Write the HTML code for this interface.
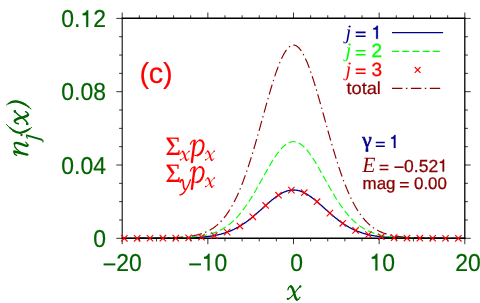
<!DOCTYPE html>
<html><head><meta charset="utf-8"><title>plot</title>
<style>html,body{margin:0;padding:0;background:#fff;overflow:hidden}svg{display:block;will-change:transform}text{fill:currentColor;stroke:currentColor;stroke-width:.008em;text-rendering:geometricPrecision}.sa{font-family:"Liberation Sans",sans-serif}.se{font-family:"Liberation Serif",serif}</style></head>
<body>
<svg width="480" height="303" viewBox="0 0 480 303">
<rect width="480" height="303" fill="#fff"/>
<g fill="none" stroke-width="1.15">
<path d="M122.20,238.29 L122.89,238.29 L123.57,238.29 L124.26,238.29 L124.94,238.29 L125.63,238.29 L126.31,238.29 L127.00,238.29 L127.68,238.29 L128.37,238.29 L129.05,238.29 L129.74,238.28 L130.42,238.28 L131.11,238.28 L131.79,238.28 L132.48,238.28 L133.16,238.28 L133.85,238.28 L134.53,238.28 L135.22,238.28 L135.90,238.28 L136.59,238.28 L137.27,238.28 L137.96,238.28 L138.64,238.28 L139.33,238.28 L140.02,238.27 L140.70,238.27 L141.39,238.27 L142.07,238.27 L142.76,238.27 L143.44,238.27 L144.13,238.27 L144.81,238.27 L145.50,238.27 L146.18,238.26 L146.87,238.26 L147.55,238.26 L148.24,238.26 L148.92,238.26 L149.61,238.26 L150.29,238.26 L150.98,238.25 L151.66,238.25 L152.35,238.25 L153.03,238.25 L153.72,238.25 L154.40,238.25 L155.09,238.24 L155.77,238.24 L156.46,238.24 L157.15,238.24 L157.83,238.23 L158.52,238.23 L159.20,238.23 L159.89,238.23 L160.57,238.22 L161.26,238.22 L161.94,238.22 L162.63,238.21 L163.31,238.21 L164.00,238.21 L164.68,238.20 L165.37,238.20 L166.05,238.19 L166.74,238.19 L167.42,238.18 L168.11,238.18 L168.79,238.17 L169.48,238.17 L170.16,238.16 L170.85,238.16 L171.53,238.15 L172.22,238.15 L172.90,238.14 L173.59,238.13 L174.28,238.12 L174.96,238.12 L175.65,238.11 L176.33,238.10 L177.02,238.09 L177.70,238.08 L178.39,238.07 L179.07,238.06 L179.76,238.05 L180.44,238.04 L181.13,238.02 L181.81,238.01 L182.50,238.00 L183.18,237.98 L183.87,237.97 L184.55,237.95 L185.24,237.93 L185.92,237.92 L186.61,237.90 L187.29,237.88 L187.98,237.86 L188.66,237.84 L189.35,237.81 L190.03,237.79 L190.72,237.76 L191.41,237.74 L192.09,237.71 L192.78,237.68 L193.46,237.65 L194.15,237.62 L194.83,237.58 L195.52,237.55 L196.20,237.51 L196.89,237.47 L197.57,237.43 L198.26,237.39 L198.94,237.34 L199.63,237.29 L200.31,237.24 L201.00,237.19 L201.68,237.14 L202.37,237.08 L203.05,237.02 L203.74,236.96 L204.42,236.89 L205.11,236.82 L205.79,236.75 L206.48,236.68 L207.16,236.60 L207.85,236.52 L208.54,236.43 L209.22,236.34 L209.91,236.25 L210.59,236.15 L211.28,236.05 L211.96,235.94 L212.65,235.83 L213.33,235.72 L214.02,235.59 L214.70,235.47 L215.39,235.34 L216.07,235.20 L216.76,235.06 L217.44,234.92 L218.13,234.77 L218.81,234.61 L219.50,234.44 L220.18,234.27 L220.87,234.10 L221.55,233.91 L222.24,233.72 L222.92,233.53 L223.61,233.32 L224.29,233.11 L224.98,232.90 L225.67,232.67 L226.35,232.44 L227.04,232.20 L227.72,231.95 L228.41,231.69 L229.09,231.43 L229.78,231.16 L230.46,230.87 L231.15,230.58 L231.83,230.29 L232.52,229.98 L233.20,229.66 L233.89,229.34 L234.57,229.00 L235.26,228.66 L235.94,228.31 L236.63,227.95 L237.31,227.58 L238.00,227.20 L238.68,226.81 L239.37,226.41 L240.05,226.00 L240.74,225.59 L241.42,225.16 L242.11,224.72 L242.80,224.28 L243.48,223.82 L244.17,223.36 L244.85,222.89 L245.54,222.41 L246.22,221.92 L246.91,221.42 L247.59,220.91 L248.28,220.40 L248.96,219.88 L249.65,219.34 L250.33,218.81 L251.02,218.26 L251.70,217.71 L252.39,217.15 L253.07,216.58 L253.76,216.01 L254.44,215.43 L255.13,214.84 L255.81,214.25 L256.50,213.66 L257.18,213.06 L257.87,212.46 L258.55,211.85 L259.24,211.24 L259.93,210.63 L260.61,210.01 L261.30,209.40 L261.98,208.78 L262.67,208.16 L263.35,207.54 L264.04,206.92 L264.72,206.31 L265.41,205.69 L266.09,205.08 L266.78,204.47 L267.46,203.87 L268.15,203.27 L268.83,202.67 L269.52,202.08 L270.20,201.50 L270.89,200.92 L271.57,200.35 L272.26,199.79 L272.94,199.24 L273.63,198.70 L274.31,198.17 L275.00,197.65 L275.68,197.14 L276.37,196.64 L277.06,196.16 L277.74,195.69 L278.43,195.24 L279.11,194.80 L279.80,194.37 L280.48,193.97 L281.17,193.58 L281.85,193.20 L282.54,192.85 L283.22,192.51 L283.91,192.20 L284.59,191.90 L285.28,191.62 L285.96,191.37 L286.65,191.13 L287.33,190.92 L288.02,190.72 L288.70,190.55 L289.39,190.40 L290.07,190.28 L290.76,190.18 L291.44,190.09 L292.13,190.04 L292.81,190.00 L293.50,189.99 L294.19,190.00 L294.87,190.04 L295.56,190.09 L296.24,190.18 L296.93,190.28 L297.61,190.40 L298.30,190.55 L298.98,190.72 L299.67,190.92 L300.35,191.13 L301.04,191.37 L301.72,191.62 L302.41,191.90 L303.09,192.20 L303.78,192.51 L304.46,192.85 L305.15,193.20 L305.83,193.58 L306.52,193.97 L307.20,194.37 L307.89,194.80 L308.57,195.24 L309.26,195.69 L309.94,196.16 L310.63,196.64 L311.32,197.14 L312.00,197.65 L312.69,198.17 L313.37,198.70 L314.06,199.24 L314.74,199.79 L315.43,200.35 L316.11,200.92 L316.80,201.50 L317.48,202.08 L318.17,202.67 L318.85,203.27 L319.54,203.87 L320.22,204.47 L320.91,205.08 L321.59,205.69 L322.28,206.31 L322.96,206.92 L323.65,207.54 L324.33,208.16 L325.02,208.78 L325.70,209.40 L326.39,210.01 L327.07,210.63 L327.76,211.24 L328.45,211.85 L329.13,212.46 L329.82,213.06 L330.50,213.66 L331.19,214.25 L331.87,214.84 L332.56,215.43 L333.24,216.01 L333.93,216.58 L334.61,217.15 L335.30,217.71 L335.98,218.26 L336.67,218.81 L337.35,219.34 L338.04,219.88 L338.72,220.40 L339.41,220.91 L340.09,221.42 L340.78,221.92 L341.46,222.41 L342.15,222.89 L342.83,223.36 L343.52,223.82 L344.20,224.28 L344.89,224.72 L345.58,225.16 L346.26,225.59 L346.95,226.00 L347.63,226.41 L348.32,226.81 L349.00,227.20 L349.69,227.58 L350.37,227.95 L351.06,228.31 L351.74,228.66 L352.43,229.00 L353.11,229.34 L353.80,229.66 L354.48,229.98 L355.17,230.29 L355.85,230.58 L356.54,230.87 L357.22,231.16 L357.91,231.43 L358.59,231.69 L359.28,231.95 L359.96,232.20 L360.65,232.44 L361.33,232.67 L362.02,232.90 L362.71,233.11 L363.39,233.32 L364.08,233.53 L364.76,233.72 L365.45,233.91 L366.13,234.10 L366.82,234.27 L367.50,234.44 L368.19,234.61 L368.87,234.77 L369.56,234.92 L370.24,235.06 L370.93,235.20 L371.61,235.34 L372.30,235.47 L372.98,235.59 L373.67,235.72 L374.35,235.83 L375.04,235.94 L375.72,236.05 L376.41,236.15 L377.09,236.25 L377.78,236.34 L378.46,236.43 L379.15,236.52 L379.84,236.60 L380.52,236.68 L381.21,236.75 L381.89,236.82 L382.58,236.89 L383.26,236.96 L383.95,237.02 L384.63,237.08 L385.32,237.14 L386.00,237.19 L386.69,237.24 L387.37,237.29 L388.06,237.34 L388.74,237.39 L389.43,237.43 L390.11,237.47 L390.80,237.51 L391.48,237.55 L392.17,237.58 L392.85,237.62 L393.54,237.65 L394.22,237.68 L394.91,237.71 L395.59,237.74 L396.28,237.76 L396.97,237.79 L397.65,237.81 L398.34,237.84 L399.02,237.86 L399.71,237.88 L400.39,237.90 L401.08,237.92 L401.76,237.93 L402.45,237.95 L403.13,237.97 L403.82,237.98 L404.50,238.00 L405.19,238.01 L405.87,238.02 L406.56,238.04 L407.24,238.05 L407.93,238.06 L408.61,238.07 L409.30,238.08 L409.98,238.09 L410.67,238.10 L411.35,238.11 L412.04,238.12 L412.72,238.12 L413.41,238.13 L414.10,238.14 L414.78,238.15 L415.47,238.15 L416.15,238.16 L416.84,238.16 L417.52,238.17 L418.21,238.17 L418.89,238.18 L419.58,238.18 L420.26,238.19 L420.95,238.19 L421.63,238.20 L422.32,238.20 L423.00,238.21 L423.69,238.21 L424.37,238.21 L425.06,238.22 L425.74,238.22 L426.43,238.22 L427.11,238.23 L427.80,238.23 L428.48,238.23 L429.17,238.23 L429.85,238.24 L430.54,238.24 L431.23,238.24 L431.91,238.24 L432.60,238.25 L433.28,238.25 L433.97,238.25 L434.65,238.25 L435.34,238.25 L436.02,238.25 L436.71,238.26 L437.39,238.26 L438.08,238.26 L438.76,238.26 L439.45,238.26 L440.13,238.26 L440.82,238.26 L441.50,238.27 L442.19,238.27 L442.87,238.27 L443.56,238.27 L444.24,238.27 L444.93,238.27 L445.61,238.27 L446.30,238.27 L446.98,238.27 L447.67,238.28 L448.36,238.28 L449.04,238.28 L449.73,238.28 L450.41,238.28 L451.10,238.28 L451.78,238.28 L452.47,238.28 L453.15,238.28 L453.84,238.28 L454.52,238.28 L455.21,238.28 L455.89,238.28 L456.58,238.28 L457.26,238.28 L457.95,238.29 L458.63,238.29 L459.32,238.29 L460.00,238.29 L460.69,238.29 L461.37,238.29 L462.06,238.29 L462.74,238.29 L463.43,238.29 L464.11,238.29 L464.80,238.29" stroke="#00008b" stroke-width="1.3"/>
<path d="M122.20,238.28 L122.89,238.28 L123.57,238.28 L124.26,238.28 L124.94,238.28 L125.63,238.28 L126.31,238.27 L127.00,238.27 L127.68,238.27 L128.37,238.27 L129.05,238.27 L129.74,238.27 L130.42,238.27 L131.11,238.27 L131.79,238.27 L132.48,238.27 L133.16,238.26 L133.85,238.26 L134.53,238.26 L135.22,238.26 L135.90,238.26 L136.59,238.26 L137.27,238.26 L137.96,238.25 L138.64,238.25 L139.33,238.25 L140.02,238.25 L140.70,238.25 L141.39,238.25 L142.07,238.24 L142.76,238.24 L143.44,238.24 L144.13,238.24 L144.81,238.23 L145.50,238.23 L146.18,238.23 L146.87,238.23 L147.55,238.22 L148.24,238.22 L148.92,238.22 L149.61,238.22 L150.29,238.21 L150.98,238.21 L151.66,238.21 L152.35,238.20 L153.03,238.20 L153.72,238.19 L154.40,238.19 L155.09,238.19 L155.77,238.18 L156.46,238.18 L157.15,238.17 L157.83,238.17 L158.52,238.16 L159.20,238.16 L159.89,238.15 L160.57,238.15 L161.26,238.14 L161.94,238.13 L162.63,238.13 L163.31,238.12 L164.00,238.11 L164.68,238.10 L165.37,238.10 L166.05,238.09 L166.74,238.08 L167.42,238.07 L168.11,238.06 L168.79,238.05 L169.48,238.04 L170.16,238.03 L170.85,238.02 L171.53,238.00 L172.22,237.99 L172.90,237.98 L173.59,237.96 L174.28,237.95 L174.96,237.93 L175.65,237.91 L176.33,237.90 L177.02,237.88 L177.70,237.86 L178.39,237.84 L179.07,237.82 L179.76,237.80 L180.44,237.77 L181.13,237.75 L181.81,237.72 L182.50,237.69 L183.18,237.66 L183.87,237.63 L184.55,237.60 L185.24,237.57 L185.92,237.53 L186.61,237.49 L187.29,237.46 L187.98,237.41 L188.66,237.37 L189.35,237.33 L190.03,237.28 L190.72,237.23 L191.41,237.17 L192.09,237.12 L192.78,237.06 L193.46,237.00 L194.15,236.93 L194.83,236.87 L195.52,236.79 L196.20,236.72 L196.89,236.64 L197.57,236.56 L198.26,236.47 L198.94,236.38 L199.63,236.29 L200.31,236.19 L201.00,236.08 L201.68,235.97 L202.37,235.86 L203.05,235.74 L203.74,235.61 L204.42,235.48 L205.11,235.35 L205.79,235.20 L206.48,235.05 L207.16,234.89 L207.85,234.73 L208.54,234.56 L209.22,234.38 L209.91,234.19 L210.59,234.00 L211.28,233.79 L211.96,233.58 L212.65,233.36 L213.33,233.13 L214.02,232.89 L214.70,232.64 L215.39,232.38 L216.07,232.11 L216.76,231.83 L217.44,231.54 L218.13,231.23 L218.81,230.92 L219.50,230.59 L220.18,230.25 L220.87,229.89 L221.55,229.53 L222.24,229.15 L222.92,228.76 L223.61,228.35 L224.29,227.93 L224.98,227.49 L225.67,227.04 L226.35,226.58 L227.04,226.10 L227.72,225.60 L228.41,225.09 L229.09,224.56 L229.78,224.01 L230.46,223.45 L231.15,222.87 L231.83,222.27 L232.52,221.66 L233.20,221.03 L233.89,220.38 L234.57,219.71 L235.26,219.02 L235.94,218.32 L236.63,217.60 L237.31,216.85 L238.00,216.10 L238.68,215.32 L239.37,214.52 L240.05,213.70 L240.74,212.87 L241.42,212.02 L242.11,211.15 L242.80,210.26 L243.48,209.35 L244.17,208.42 L244.85,207.48 L245.54,206.52 L246.22,205.54 L246.91,204.54 L247.59,203.53 L248.28,202.50 L248.96,201.45 L249.65,200.39 L250.33,199.31 L251.02,198.22 L251.70,197.11 L252.39,195.99 L253.07,194.86 L253.76,193.71 L254.44,192.55 L255.13,191.39 L255.81,190.21 L256.50,189.02 L257.18,187.82 L257.87,186.61 L258.55,185.40 L259.24,184.18 L259.93,182.95 L260.61,181.72 L261.30,180.49 L261.98,179.26 L262.67,178.02 L263.35,176.78 L264.04,175.55 L264.72,174.32 L265.41,173.09 L266.09,171.87 L266.78,170.65 L267.46,169.44 L268.15,168.24 L268.83,167.04 L269.52,165.86 L270.20,164.70 L270.89,163.54 L271.57,162.40 L272.26,161.28 L272.94,160.18 L273.63,159.10 L274.31,158.03 L275.00,156.99 L275.68,155.98 L276.37,154.98 L277.06,154.02 L277.74,153.08 L278.43,152.17 L279.11,151.29 L279.80,150.45 L280.48,149.63 L281.17,148.85 L281.85,148.11 L282.54,147.40 L283.22,146.73 L283.91,146.09 L284.59,145.50 L285.28,144.95 L285.96,144.43 L286.65,143.96 L287.33,143.53 L288.02,143.15 L288.70,142.81 L289.39,142.51 L290.07,142.26 L290.76,142.05 L291.44,141.89 L292.13,141.77 L292.81,141.70 L293.50,141.68 L294.19,141.70 L294.87,141.77 L295.56,141.89 L296.24,142.05 L296.93,142.26 L297.61,142.51 L298.30,142.81 L298.98,143.15 L299.67,143.53 L300.35,143.96 L301.04,144.43 L301.72,144.95 L302.41,145.50 L303.09,146.09 L303.78,146.73 L304.46,147.40 L305.15,148.11 L305.83,148.85 L306.52,149.63 L307.20,150.45 L307.89,151.29 L308.57,152.17 L309.26,153.08 L309.94,154.02 L310.63,154.98 L311.32,155.98 L312.00,156.99 L312.69,158.03 L313.37,159.10 L314.06,160.18 L314.74,161.28 L315.43,162.40 L316.11,163.54 L316.80,164.70 L317.48,165.86 L318.17,167.04 L318.85,168.24 L319.54,169.44 L320.22,170.65 L320.91,171.87 L321.59,173.09 L322.28,174.32 L322.96,175.55 L323.65,176.78 L324.33,178.02 L325.02,179.26 L325.70,180.49 L326.39,181.72 L327.07,182.95 L327.76,184.18 L328.45,185.40 L329.13,186.61 L329.82,187.82 L330.50,189.02 L331.19,190.21 L331.87,191.39 L332.56,192.55 L333.24,193.71 L333.93,194.86 L334.61,195.99 L335.30,197.11 L335.98,198.22 L336.67,199.31 L337.35,200.39 L338.04,201.45 L338.72,202.50 L339.41,203.53 L340.09,204.54 L340.78,205.54 L341.46,206.52 L342.15,207.48 L342.83,208.42 L343.52,209.35 L344.20,210.26 L344.89,211.15 L345.58,212.02 L346.26,212.87 L346.95,213.70 L347.63,214.52 L348.32,215.32 L349.00,216.10 L349.69,216.85 L350.37,217.60 L351.06,218.32 L351.74,219.02 L352.43,219.71 L353.11,220.38 L353.80,221.03 L354.48,221.66 L355.17,222.27 L355.85,222.87 L356.54,223.45 L357.22,224.01 L357.91,224.56 L358.59,225.09 L359.28,225.60 L359.96,226.10 L360.65,226.58 L361.33,227.04 L362.02,227.49 L362.71,227.93 L363.39,228.35 L364.08,228.76 L364.76,229.15 L365.45,229.53 L366.13,229.89 L366.82,230.25 L367.50,230.59 L368.19,230.92 L368.87,231.23 L369.56,231.54 L370.24,231.83 L370.93,232.11 L371.61,232.38 L372.30,232.64 L372.98,232.89 L373.67,233.13 L374.35,233.36 L375.04,233.58 L375.72,233.79 L376.41,234.00 L377.09,234.19 L377.78,234.38 L378.46,234.56 L379.15,234.73 L379.84,234.89 L380.52,235.05 L381.21,235.20 L381.89,235.35 L382.58,235.48 L383.26,235.61 L383.95,235.74 L384.63,235.86 L385.32,235.97 L386.00,236.08 L386.69,236.19 L387.37,236.29 L388.06,236.38 L388.74,236.47 L389.43,236.56 L390.11,236.64 L390.80,236.72 L391.48,236.79 L392.17,236.87 L392.85,236.93 L393.54,237.00 L394.22,237.06 L394.91,237.12 L395.59,237.17 L396.28,237.23 L396.97,237.28 L397.65,237.33 L398.34,237.37 L399.02,237.41 L399.71,237.46 L400.39,237.49 L401.08,237.53 L401.76,237.57 L402.45,237.60 L403.13,237.63 L403.82,237.66 L404.50,237.69 L405.19,237.72 L405.87,237.75 L406.56,237.77 L407.24,237.80 L407.93,237.82 L408.61,237.84 L409.30,237.86 L409.98,237.88 L410.67,237.90 L411.35,237.91 L412.04,237.93 L412.72,237.95 L413.41,237.96 L414.10,237.98 L414.78,237.99 L415.47,238.00 L416.15,238.02 L416.84,238.03 L417.52,238.04 L418.21,238.05 L418.89,238.06 L419.58,238.07 L420.26,238.08 L420.95,238.09 L421.63,238.10 L422.32,238.10 L423.00,238.11 L423.69,238.12 L424.37,238.13 L425.06,238.13 L425.74,238.14 L426.43,238.15 L427.11,238.15 L427.80,238.16 L428.48,238.16 L429.17,238.17 L429.85,238.17 L430.54,238.18 L431.23,238.18 L431.91,238.19 L432.60,238.19 L433.28,238.19 L433.97,238.20 L434.65,238.20 L435.34,238.21 L436.02,238.21 L436.71,238.21 L437.39,238.22 L438.08,238.22 L438.76,238.22 L439.45,238.22 L440.13,238.23 L440.82,238.23 L441.50,238.23 L442.19,238.23 L442.87,238.24 L443.56,238.24 L444.24,238.24 L444.93,238.24 L445.61,238.25 L446.30,238.25 L446.98,238.25 L447.67,238.25 L448.36,238.25 L449.04,238.25 L449.73,238.26 L450.41,238.26 L451.10,238.26 L451.78,238.26 L452.47,238.26 L453.15,238.26 L453.84,238.26 L454.52,238.27 L455.21,238.27 L455.89,238.27 L456.58,238.27 L457.26,238.27 L457.95,238.27 L458.63,238.27 L459.32,238.27 L460.00,238.27 L460.69,238.27 L461.37,238.28 L462.06,238.28 L462.74,238.28 L463.43,238.28 L464.11,238.28 L464.80,238.28" stroke="#00ff00" stroke-dasharray="7 3.3" stroke-dashoffset="4.4"/>
<path d="M122.20,238.26 L122.89,238.26 L123.57,238.26 L124.26,238.25 L124.94,238.25 L125.63,238.25 L126.31,238.25 L127.00,238.25 L127.68,238.24 L128.37,238.24 L129.05,238.24 L129.74,238.24 L130.42,238.24 L131.11,238.23 L131.79,238.23 L132.48,238.23 L133.16,238.23 L133.85,238.23 L134.53,238.22 L135.22,238.22 L135.90,238.22 L136.59,238.21 L137.27,238.21 L137.96,238.21 L138.64,238.20 L139.33,238.20 L140.02,238.20 L140.70,238.19 L141.39,238.19 L142.07,238.19 L142.76,238.18 L143.44,238.18 L144.13,238.17 L144.81,238.17 L145.50,238.16 L146.18,238.16 L146.87,238.15 L147.55,238.15 L148.24,238.14 L148.92,238.14 L149.61,238.13 L150.29,238.13 L150.98,238.12 L151.66,238.11 L152.35,238.10 L153.03,238.10 L153.72,238.09 L154.40,238.08 L155.09,238.07 L155.77,238.06 L156.46,238.06 L157.15,238.05 L157.83,238.04 L158.52,238.03 L159.20,238.02 L159.89,238.00 L160.57,237.99 L161.26,237.98 L161.94,237.97 L162.63,237.95 L163.31,237.94 L164.00,237.92 L164.68,237.91 L165.37,237.89 L166.05,237.88 L166.74,237.86 L167.42,237.84 L168.11,237.82 L168.79,237.80 L169.48,237.78 L170.16,237.76 L170.85,237.73 L171.53,237.71 L172.22,237.68 L172.90,237.65 L173.59,237.63 L174.28,237.59 L174.96,237.56 L175.65,237.53 L176.33,237.49 L177.02,237.46 L177.70,237.42 L178.39,237.38 L179.07,237.34 L179.76,237.29 L180.44,237.24 L181.13,237.19 L181.81,237.14 L182.50,237.09 L183.18,237.03 L183.87,236.97 L184.55,236.90 L185.24,236.84 L185.92,236.76 L186.61,236.69 L187.29,236.61 L187.98,236.53 L188.66,236.44 L189.35,236.35 L190.03,236.25 L190.72,236.15 L191.41,236.05 L192.09,235.94 L192.78,235.82 L193.46,235.70 L194.15,235.57 L194.83,235.43 L195.52,235.29 L196.20,235.14 L196.89,234.98 L197.57,234.82 L198.26,234.65 L198.94,234.47 L199.63,234.28 L200.31,234.08 L201.00,233.87 L201.68,233.65 L202.37,233.42 L203.05,233.18 L203.74,232.93 L204.42,232.67 L205.11,232.39 L205.79,232.10 L206.48,231.80 L207.16,231.49 L207.85,231.16 L208.54,230.82 L209.22,230.46 L209.91,230.09 L210.59,229.69 L211.28,229.29 L211.96,228.86 L212.65,228.42 L213.33,227.96 L214.02,227.48 L214.70,226.98 L215.39,226.46 L216.07,225.92 L216.76,225.36 L217.44,224.77 L218.13,224.16 L218.81,223.53 L219.50,222.88 L220.18,222.20 L220.87,221.49 L221.55,220.76 L222.24,220.00 L222.92,219.21 L223.61,218.40 L224.29,217.56 L224.98,216.69 L225.67,215.78 L226.35,214.85 L227.04,213.89 L227.72,212.90 L228.41,211.87 L229.09,210.81 L229.78,209.72 L230.46,208.60 L231.15,207.44 L231.83,206.24 L232.52,205.02 L233.20,203.75 L233.89,202.45 L234.57,201.12 L235.26,199.75 L235.94,198.34 L236.63,196.89 L237.31,195.41 L238.00,193.89 L238.68,192.33 L239.37,190.74 L240.05,189.11 L240.74,187.44 L241.42,185.74 L242.11,183.99 L242.80,182.21 L243.48,180.40 L244.17,178.55 L244.85,176.66 L245.54,174.73 L246.22,172.78 L246.91,170.78 L247.59,168.76 L248.28,166.70 L248.96,164.60 L249.65,162.48 L250.33,160.32 L251.02,158.14 L251.70,155.93 L252.39,153.69 L253.07,151.42 L253.76,149.13 L254.44,146.81 L255.13,144.47 L255.81,142.11 L256.50,139.73 L257.18,137.34 L257.87,134.92 L258.55,132.50 L259.24,130.06 L259.93,127.61 L260.61,125.15 L261.30,122.68 L261.98,120.21 L262.67,117.74 L263.35,115.27 L264.04,112.80 L264.72,110.34 L265.41,107.88 L266.09,105.43 L266.78,103.00 L267.46,100.57 L268.15,98.17 L268.83,95.79 L269.52,93.43 L270.20,91.09 L270.89,88.78 L271.57,86.51 L272.26,84.26 L272.94,82.06 L273.63,79.89 L274.31,77.77 L275.00,75.68 L275.68,73.65 L276.37,71.67 L277.06,69.74 L277.74,67.86 L278.43,66.04 L279.11,64.29 L279.80,62.59 L280.48,60.96 L281.17,59.40 L281.85,57.91 L282.54,56.50 L283.22,55.15 L283.91,53.89 L284.59,52.70 L285.28,51.59 L285.96,50.57 L286.65,49.62 L287.33,48.77 L288.02,48.00 L288.70,47.31 L289.39,46.72 L290.07,46.21 L290.76,45.80 L291.44,45.48 L292.13,45.25 L292.81,45.11 L293.50,45.06 L294.19,45.11 L294.87,45.25 L295.56,45.48 L296.24,45.80 L296.93,46.21 L297.61,46.72 L298.30,47.31 L298.98,48.00 L299.67,48.77 L300.35,49.62 L301.04,50.57 L301.72,51.59 L302.41,52.70 L303.09,53.89 L303.78,55.15 L304.46,56.50 L305.15,57.91 L305.83,59.40 L306.52,60.96 L307.20,62.59 L307.89,64.29 L308.57,66.04 L309.26,67.86 L309.94,69.74 L310.63,71.67 L311.32,73.65 L312.00,75.68 L312.69,77.77 L313.37,79.89 L314.06,82.06 L314.74,84.26 L315.43,86.51 L316.11,88.78 L316.80,91.09 L317.48,93.43 L318.17,95.79 L318.85,98.17 L319.54,100.57 L320.22,103.00 L320.91,105.43 L321.59,107.88 L322.28,110.34 L322.96,112.80 L323.65,115.27 L324.33,117.74 L325.02,120.21 L325.70,122.68 L326.39,125.15 L327.07,127.61 L327.76,130.06 L328.45,132.50 L329.13,134.92 L329.82,137.34 L330.50,139.73 L331.19,142.11 L331.87,144.47 L332.56,146.81 L333.24,149.13 L333.93,151.42 L334.61,153.69 L335.30,155.93 L335.98,158.14 L336.67,160.32 L337.35,162.48 L338.04,164.60 L338.72,166.70 L339.41,168.76 L340.09,170.78 L340.78,172.78 L341.46,174.73 L342.15,176.66 L342.83,178.55 L343.52,180.40 L344.20,182.21 L344.89,183.99 L345.58,185.74 L346.26,187.44 L346.95,189.11 L347.63,190.74 L348.32,192.33 L349.00,193.89 L349.69,195.41 L350.37,196.89 L351.06,198.34 L351.74,199.75 L352.43,201.12 L353.11,202.45 L353.80,203.75 L354.48,205.02 L355.17,206.24 L355.85,207.44 L356.54,208.60 L357.22,209.72 L357.91,210.81 L358.59,211.87 L359.28,212.90 L359.96,213.89 L360.65,214.85 L361.33,215.78 L362.02,216.69 L362.71,217.56 L363.39,218.40 L364.08,219.21 L364.76,220.00 L365.45,220.76 L366.13,221.49 L366.82,222.20 L367.50,222.88 L368.19,223.53 L368.87,224.16 L369.56,224.77 L370.24,225.36 L370.93,225.92 L371.61,226.46 L372.30,226.98 L372.98,227.48 L373.67,227.96 L374.35,228.42 L375.04,228.86 L375.72,229.29 L376.41,229.69 L377.09,230.09 L377.78,230.46 L378.46,230.82 L379.15,231.16 L379.84,231.49 L380.52,231.80 L381.21,232.10 L381.89,232.39 L382.58,232.67 L383.26,232.93 L383.95,233.18 L384.63,233.42 L385.32,233.65 L386.00,233.87 L386.69,234.08 L387.37,234.28 L388.06,234.47 L388.74,234.65 L389.43,234.82 L390.11,234.98 L390.80,235.14 L391.48,235.29 L392.17,235.43 L392.85,235.57 L393.54,235.70 L394.22,235.82 L394.91,235.94 L395.59,236.05 L396.28,236.15 L396.97,236.25 L397.65,236.35 L398.34,236.44 L399.02,236.53 L399.71,236.61 L400.39,236.69 L401.08,236.76 L401.76,236.84 L402.45,236.90 L403.13,236.97 L403.82,237.03 L404.50,237.09 L405.19,237.14 L405.87,237.19 L406.56,237.24 L407.24,237.29 L407.93,237.34 L408.61,237.38 L409.30,237.42 L409.98,237.46 L410.67,237.49 L411.35,237.53 L412.04,237.56 L412.72,237.59 L413.41,237.63 L414.10,237.65 L414.78,237.68 L415.47,237.71 L416.15,237.73 L416.84,237.76 L417.52,237.78 L418.21,237.80 L418.89,237.82 L419.58,237.84 L420.26,237.86 L420.95,237.88 L421.63,237.89 L422.32,237.91 L423.00,237.92 L423.69,237.94 L424.37,237.95 L425.06,237.97 L425.74,237.98 L426.43,237.99 L427.11,238.00 L427.80,238.02 L428.48,238.03 L429.17,238.04 L429.85,238.05 L430.54,238.06 L431.23,238.06 L431.91,238.07 L432.60,238.08 L433.28,238.09 L433.97,238.10 L434.65,238.10 L435.34,238.11 L436.02,238.12 L436.71,238.13 L437.39,238.13 L438.08,238.14 L438.76,238.14 L439.45,238.15 L440.13,238.15 L440.82,238.16 L441.50,238.16 L442.19,238.17 L442.87,238.17 L443.56,238.18 L444.24,238.18 L444.93,238.19 L445.61,238.19 L446.30,238.19 L446.98,238.20 L447.67,238.20 L448.36,238.20 L449.04,238.21 L449.73,238.21 L450.41,238.21 L451.10,238.22 L451.78,238.22 L452.47,238.22 L453.15,238.23 L453.84,238.23 L454.52,238.23 L455.21,238.23 L455.89,238.23 L456.58,238.24 L457.26,238.24 L457.95,238.24 L458.63,238.24 L459.32,238.24 L460.00,238.25 L460.69,238.25 L461.37,238.25 L462.06,238.25 L462.74,238.25 L463.43,238.26 L464.11,238.26 L464.80,238.26" stroke="#8b0000" stroke-dasharray="10.3 3.6 1.4 3.6" stroke-dashoffset="5.95"/>
</g>
<g stroke="#000" fill="none">
<path d="M121.70,18.25H465.50M121.70,238.25H465.50" stroke-width="1.4"/>
<path d="M122.20,18.25V238.25" stroke-width="1.05"/>
<path d="M464.80,18.25V238.25" stroke-width="1.3"/>
<path d="M122.20,238.30v5.90M122.20,18.40v-5.90M139.33,238.30v3.10M139.33,18.40v-3.10M156.46,238.30v3.10M156.46,18.40v-3.10M173.59,238.30v3.10M173.59,18.40v-3.10M190.72,238.30v3.10M190.72,18.40v-3.10M207.85,238.30v5.90M207.85,18.40v-5.90M224.98,238.30v3.10M224.98,18.40v-3.10M242.11,238.30v3.10M242.11,18.40v-3.10M259.24,238.30v3.10M259.24,18.40v-3.10M276.37,238.30v3.10M276.37,18.40v-3.10M293.50,238.30v5.90M293.50,18.40v-5.90M310.63,238.30v3.10M310.63,18.40v-3.10M327.76,238.30v3.10M327.76,18.40v-3.10M344.89,238.30v3.10M344.89,18.40v-3.10M362.02,238.30v3.10M362.02,18.40v-3.10M379.15,238.30v5.90M379.15,18.40v-5.90M396.28,238.30v3.10M396.28,18.40v-3.10M413.41,238.30v3.10M413.41,18.40v-3.10M430.54,238.30v3.10M430.54,18.40v-3.10M447.67,238.30v3.10M447.67,18.40v-3.10M464.80,238.30v5.90M464.80,18.40v-5.90M122.20,238.30h-5.90M464.80,238.30h5.90M122.20,219.98h-3.10M464.80,219.98h3.10M122.20,201.65h-3.10M464.80,201.65h3.10M122.20,183.33h-3.10M464.80,183.33h3.10M122.20,165.00h-5.90M464.80,165.00h5.90M122.20,146.68h-3.10M464.80,146.68h3.10M122.20,128.35h-3.10M464.80,128.35h3.10M122.20,110.03h-3.10M464.80,110.03h3.10M122.20,91.70h-5.90M464.80,91.70h5.90M122.20,73.38h-3.10M464.80,73.38h3.10M122.20,55.05h-3.10M464.80,55.05h3.10M122.20,36.72h-3.10M464.80,36.72h3.10M122.20,18.40h-5.90M464.80,18.40h5.90" stroke-width="0.8"/>
</g>
<path d="M121.14,235.09l6.40,6.40M121.14,241.49l6.40,-6.40M133.99,235.08l6.40,6.40M133.99,241.48l6.40,-6.40M146.84,235.06l6.40,6.40M146.84,241.46l6.40,-6.40M159.68,235.01l6.40,6.40M159.68,241.41l6.40,-6.40M172.53,234.91l6.40,6.40M172.53,241.31l6.40,-6.40M185.38,234.64l6.40,6.40M185.38,241.04l6.40,-6.40M198.23,233.96l6.40,6.40M198.23,240.36l6.40,-6.40M211.07,232.35l6.40,6.40M211.07,238.75l6.40,-6.40M223.92,228.97l6.40,6.40M223.92,235.37l6.40,-6.40M236.77,222.85l6.40,6.40M236.77,229.25l6.40,-6.40M249.62,213.59l6.40,6.40M249.62,219.99l6.40,-6.40M262.46,202.26l6.40,6.40M262.46,208.66l6.40,-6.40M275.31,191.98l6.40,6.40M275.31,198.38l6.40,-6.40M288.16,186.90l6.40,6.40M288.16,193.30l6.40,-6.40M301.01,189.52l6.40,6.40M301.01,195.92l6.40,-6.40M313.85,198.52l6.40,6.40M313.85,204.92l6.40,-6.40M326.70,209.93l6.40,6.40M326.70,216.33l6.40,-6.40M339.55,220.10l6.40,6.40M339.55,226.50l6.40,-6.40M352.40,227.27l6.40,6.40M352.40,233.67l6.40,-6.40M365.24,231.47l6.40,6.40M365.24,237.87l6.40,-6.40M378.09,233.56l6.40,6.40M378.09,239.96l6.40,-6.40M390.94,234.48l6.40,6.40M390.94,240.88l6.40,-6.40M403.79,234.84l6.40,6.40M403.79,241.24l6.40,-6.40M416.63,234.99l6.40,6.40M416.63,241.39l6.40,-6.40M429.48,235.05l6.40,6.40M429.48,241.45l6.40,-6.40M442.33,235.07l6.40,6.40M442.33,241.47l6.40,-6.40M455.18,235.09l6.40,6.40M455.18,241.49l6.40,-6.40M414.70,67.00l5.80,5.80M414.70,72.80l5.80,-5.80" stroke="#ff0000" stroke-width="1.12" fill="none"/>
<g fill="none" stroke-width="1.15">
<path d="M392,32.6H443.1" stroke="#00008b"/>
<path d="M392,51.3H442" stroke="#00ff00" stroke-dasharray="7.1 3.1"/>
<path d="M392,88.4H442" stroke="#8b0000" stroke-dasharray="10.4 3.5 1.5 3.5"/>
</g>
<text class="sa" transform="translate(93.16,247.00) scale(0.935,1)" x="0.00" font-size="24.50" color="#006400">0</text>
<text class="sa" transform="translate(61.32,173.70) scale(0.935,1)" x="0.00 13.63 20.43 34.06" font-size="24.50" color="#006400">0.04</text>
<text class="sa" transform="translate(61.32,100.40) scale(0.935,1)" x="0.00 13.63 20.43 34.06" font-size="24.50" color="#006400">0.08</text>
<path transform="translate(80.42,27.10) scale(0.01119,-0.01196)" d="M696,0L696,1409L572,1409C540,1290 430,1165 197,1140L197,1000L515,1000L515,0Z" fill="#006400" stroke="#006400" stroke-width="0.20" vector-effect="non-scaling-stroke"/><text class="sa" transform="translate(61.32,27.10) scale(0.935,1)" x="0.00 13.63 34.06" font-size="24.50" color="#006400">0.2</text>
<rect x="103.57" y="263.42" width="11.79" height="1.98" fill="#006400"/><text class="sa" transform="translate(102.77,270.60) scale(0.935,1)" x="14.31 27.93" font-size="24.50" color="#006400">20</text>
<rect x="189.22" y="263.42" width="11.79" height="1.98" fill="#006400"/><path transform="translate(201.80,270.60) scale(0.01119,-0.01196)" d="M696,0L696,1409L572,1409C540,1290 430,1165 197,1140L197,1000L515,1000L515,0Z" fill="#006400" stroke="#006400" stroke-width="0.20" vector-effect="non-scaling-stroke"/><text class="sa" transform="translate(188.42,270.60) scale(0.935,1)" x="27.93" font-size="24.50" color="#006400">0</text>
<text class="sa" transform="translate(290.33,270.60) scale(0.935,1)" x="0.00" font-size="24.50" color="#006400">0</text>
<path transform="translate(369.61,270.60) scale(0.01119,-0.01196)" d="M696,0L696,1409L572,1409C540,1290 430,1165 197,1140L197,1000L515,1000L515,0Z" fill="#006400" stroke="#006400" stroke-width="0.20" vector-effect="non-scaling-stroke"/><text class="sa" transform="translate(369.61,270.60) scale(0.935,1)" x="13.63" font-size="24.50" color="#006400">0</text>
<text class="sa" transform="translate(455.26,270.60) scale(0.935,1)" x="0.00 13.63" font-size="24.50" color="#006400">20</text>
<g fill="none" stroke="#006400" stroke-linecap="round"><path d="M290.9,286.4 C292.9,287.4 293.4,290.5 294.3,293.8 C295,296.5 295.3,298.6 296.7,299.6" stroke-width="2.5"/><path d="M287.9,289.9 C288.4,287.6 289.6,286.2 291,286.2 M296.5,299.7 C298,300.1 299.2,298.8 300,297.2" stroke-width="1.2"/><path d="M300.6,286.2 C298.5,287.5 296.5,290.5 294.3,293.4 C292,296.5 290,298.8 287.6,299.2" stroke-width="1.05"/><path d="M300.3,286.5h.01M287.8,298.8h.01" stroke-width="2.3"/></g>
<g transform="translate(27.6,156) rotate(-90)" fill="none" stroke="#006400" stroke-linecap="round"><path d="M0.6,-11 C1.6,-12.8 3,-14 4.4,-13.5" stroke-width="1.2"/><path d="M4.5,-13.3 L1.4,-0.3" stroke-width="2.4"/><path d="M2.4,-4.5 C5,-9.5 9,-13.6 12,-13.2" stroke-width="1.1"/><path d="M12.2,-13.1 C13.9,-12.3 12.3,-6.5 10.2,-2 C9.6,-0.4 10.2,0.3 11.2,0" stroke-width="2.2"/><path d="M11.2,0 C12.2,-0.3 13.1,-1 13.9,-2" stroke-width="1.1"/><path d="M21,-6.1h.01" stroke-width="2.3"/><path d="M17.9,-0.2 C18.8,-1 19.8,-1.4 20.6,-1" stroke-width="1.1"/><path d="M20.6,-0.8 L16.3,14" stroke-width="1.8"/><path d="M16.3,14 C15.8,15.6 15,15.9 14.2,15.2" stroke-width="1.1"/><path d="M31.50,-21.10 C26.00,-16.00 22.40,-11.00 23.50,-6.00 C24.30,-2.00 26.50,1.50 28.50,3.90" stroke-width="1.00"/><path d="M28.45,-18.05 C24.75,-14.00 22.62,-10.00 23.50,-6.00 C24.14,-2.80 25.68,0.08 27.29,2.33" stroke-width="1.55"/><path d="M25.48,-14.27 C23.71,-11.50 22.89,-8.75 23.50,-6.00 C23.94,-3.80 24.80,-1.75 25.82,0.05" stroke-width="2.10"/><g transform="translate(-255.7,-299.2)"><path d="M290.9,286.4 C292.9,287.4 293.4,290.5 294.3,293.8 C295,296.5 295.3,298.6 296.7,299.6" stroke-width="2.5"/><path d="M287.9,289.9 C288.4,287.6 289.6,286.2 291,286.2 M296.5,299.7 C298,300.1 299.2,298.8 300,297.2" stroke-width="1.5"/><path d="M300.6,286.2 C298.5,287.5 296.5,290.5 294.3,293.4 C292,296.5 290,298.8 287.6,299.2" stroke-width="1.45"/><path d="M300.3,286.5h.01M287.8,298.8h.01" stroke-width="2.6"/></g><path d="M51.00,-21.10 C53.50,-18.00 55.20,-14.50 54.40,-10.00 C53.60,-5.00 50.50,-0.50 47.00,3.40" stroke-width="1.00"/><path d="M52.39,-19.19 C54.08,-16.56 55.04,-13.60 54.40,-10.00 C53.76,-6.00 51.65,-2.32 49.04,0.99" stroke-width="1.55"/><path d="M53.73,-16.62 C54.52,-14.65 54.84,-12.47 54.40,-10.00 C53.96,-7.25 52.82,-4.65 51.31,-2.22" stroke-width="2.10"/></g>
<text x="139.6" y="83.2" class="sa" font-size="29" color="#ff0000" letter-spacing="-0.4" style="stroke-width:.15px">(c)</text>
<text x="165.5" y="155" color="#ff0000" class="se" font-size="26.5">Σ</text>
<text x="165.5" y="181.8" color="#ff0000" class="se" font-size="26.5">Σ</text>
<g fill="none" stroke="#ff0000" stroke-linecap="round">
<path d="M190.3,144.3 C191.1,142 192.4,140.4 193.9,140.2" stroke-width="1.1"/><path d="M194.7,140.6 L191.9,162" stroke-width="2.3"/><path d="M194.4,146.2 C195.8,143 197.8,140.4 199.8,140.2" stroke-width="1.1"/><path d="M199.8,140.2 C202.6,140.1 204,142.8 203.4,146.5 C202.8,150.5 200.6,154.2 197.6,155.3" stroke-width="2.1"/><path d="M197.6,155.3 C196,155.9 194.6,155.5 193.5,154.6" stroke-width="1.1"/><g transform="translate(180.20,160.60) scale(0.680) translate(-287.4,-300)"><path d="M290.9,286.4 C292.9,287.4 293.4,290.5 294.3,293.8 C295,296.5 295.3,298.6 296.7,299.6" stroke-width="2.5"/><path d="M287.9,289.9 C288.4,287.6 289.6,286.2 291,286.2 M296.5,299.7 C298,300.1 299.2,298.8 300,297.2" stroke-width="1.2"/><path d="M300.6,286.2 C298.5,287.5 296.5,290.5 294.3,293.4 C292,296.5 290,298.8 287.6,299.2" stroke-width="1.05"/><path d="M300.3,286.5h.01M287.8,298.8h.01" stroke-width="2.3"/></g><g transform="translate(205.40,160.50) scale(0.680) translate(-287.4,-300)"><path d="M290.9,286.4 C292.9,287.4 293.4,290.5 294.3,293.8 C295,296.5 295.3,298.6 296.7,299.6" stroke-width="2.5"/><path d="M287.9,289.9 C288.4,287.6 289.6,286.2 291,286.2 M296.5,299.7 C298,300.1 299.2,298.8 300,297.2" stroke-width="1.2"/><path d="M300.6,286.2 C298.5,287.5 296.5,290.5 294.3,293.4 C292,296.5 290,298.8 287.6,299.2" stroke-width="1.05"/><path d="M300.3,286.5h.01M287.8,298.8h.01" stroke-width="2.3"/></g>
<g transform="translate(0,26.8)"><path d="M190.3,144.3 C191.1,142 192.4,140.4 193.9,140.2" stroke-width="1.1"/><path d="M194.7,140.6 L191.9,162" stroke-width="2.3"/><path d="M194.4,146.2 C195.8,143 197.8,140.4 199.8,140.2" stroke-width="1.1"/><path d="M199.8,140.2 C202.6,140.1 204,142.8 203.4,146.5 C202.8,150.5 200.6,154.2 197.6,155.3" stroke-width="2.1"/><path d="M197.6,155.3 C196,155.9 194.6,155.5 193.5,154.6" stroke-width="1.1"/><g transform="translate(205.40,160.50) scale(0.680) translate(-287.4,-300)"><path d="M290.9,286.4 C292.9,287.4 293.4,290.5 294.3,293.8 C295,296.5 295.3,298.6 296.7,299.6" stroke-width="2.5"/><path d="M287.9,289.9 C288.4,287.6 289.6,286.2 291,286.2 M296.5,299.7 C298,300.1 299.2,298.8 300,297.2" stroke-width="1.2"/><path d="M300.6,286.2 C298.5,287.5 296.5,290.5 294.3,293.4 C292,296.5 290,298.8 287.6,299.2" stroke-width="1.05"/><path d="M300.3,286.5h.01M287.8,298.8h.01" stroke-width="2.3"/></g></g>
<g transform="translate(0,1.2)"><path d="M180,180.9 C180.6,179.4 181.4,178.4 182.2,178.4 C183.4,178.6 183.2,182 183.6,185 C183.9,187 184.4,188.3 185.4,188.2" stroke-width="1.6"/><path d="M190.4,178.4 C189.5,182 187.5,186 185,190 C183.5,192.3 181.6,193.9 179.8,193.6" stroke-width="1.3"/></g>
</g>
<text y="38.8" color="#00008b" style="stroke-width:0"><tspan x="345.4" class="se" font-style="italic" font-size="20.5">j</tspan></text>
<path d="M355.70,31.60h9.90v1.60h-9.90zM355.70,35.50h9.90v1.60h-9.90z" fill="#00008b"/>
<path transform="translate(371.40,38.80) scale(0.00928,-0.00928)" d="M696,0L696,1409L572,1409C540,1290 430,1165 197,1140L197,1000L515,1000L515,0Z" fill="#00008b" stroke="#00008b" stroke-width="0.30" vector-effect="non-scaling-stroke"/>
<text y="57.2" color="#00ff00" style="stroke-width:0"><tspan x="345.4" class="se" font-style="italic" font-size="20.5">j</tspan></text>
<path d="M355.70,50.00h9.90v1.60h-9.90zM355.70,53.90h9.90v1.60h-9.90z" fill="#00ff00"/>
<text class="sa" transform="translate(371.40,57.20) scale(1.000,1)" x="0.00" font-size="19.00" color="#00ff00" style="stroke-width:.3px">2</text>
<text y="75.8" color="#ff0000" style="stroke-width:0"><tspan x="345.4" class="se" font-style="italic" font-size="20.5">j</tspan></text>
<path d="M355.70,68.60h9.90v1.60h-9.90zM355.70,72.50h9.90v1.60h-9.90z" fill="#ff0000"/>
<text class="sa" transform="translate(371.40,75.80) scale(1.000,1)" x="0.00" font-size="19.00" color="#ff0000" style="stroke-width:.3px">3</text>
<text transform="translate(346.4,94.2) scale(1.05,1)" color="#8b0000" font-size="17.4" class="sa" style="stroke-width:.22px">total</text>
<text y="147.3" color="#00008b" style="stroke-width:.35px"><tspan x="362.2" class="se" font-size="21.5" style="stroke-width:.6px">γ</tspan></text>
<path d="M375.80,141.75h9.00v1.50h-9.00zM375.80,145.55h9.00v1.50h-9.00z" fill="#00008b"/>
<path transform="translate(389.50,147.90) scale(0.00854,-0.00918)" d="M696,0L696,1409L572,1409C540,1290 430,1165 197,1140L197,1000L515,1000L515,0Z" fill="#00008b" stroke="#00008b" stroke-width="0.35" vector-effect="non-scaling-stroke"/>
<text y="171.5" color="#8b0000" style="stroke-width:.3px"><tspan x="362.2" class="se" font-style="italic" font-size="21.6" style="stroke-width:0">E</tspan></text>
<path d="M379.60,164.75h8.80v1.50h-8.80zM379.60,168.65h8.80v1.50h-8.80z" fill="#8b0000"/>
<rect x="394.43" y="166.39" width="9.16" height="1.58" fill="#8b0000"/><path transform="translate(438.18,171.60) scale(0.00854,-0.00854)" d="M696,0L696,1409L572,1409C540,1290 430,1165 197,1140L197,1000L515,1000L515,0Z" fill="#8b0000" stroke="#8b0000" stroke-width="0.30" vector-effect="non-scaling-stroke"/><text class="sa" transform="translate(393.90,171.60) scale(1.000,1)" x="10.22 19.95 24.81 34.55" font-size="17.50" color="#8b0000" style="stroke-width:.3px">0.52</text>
<text y="189.3" color="#8b0000" font-size="16.9" class="sa" style="stroke-width:.3px"><tspan x="362.6">mag</tspan><tspan x="414">0.00</tspan></text>
<path d="M399.90,181.95h8.80v1.50h-8.80zM399.90,185.95h8.80v1.50h-8.80z" fill="#8b0000"/>
</svg>
</body></html>
